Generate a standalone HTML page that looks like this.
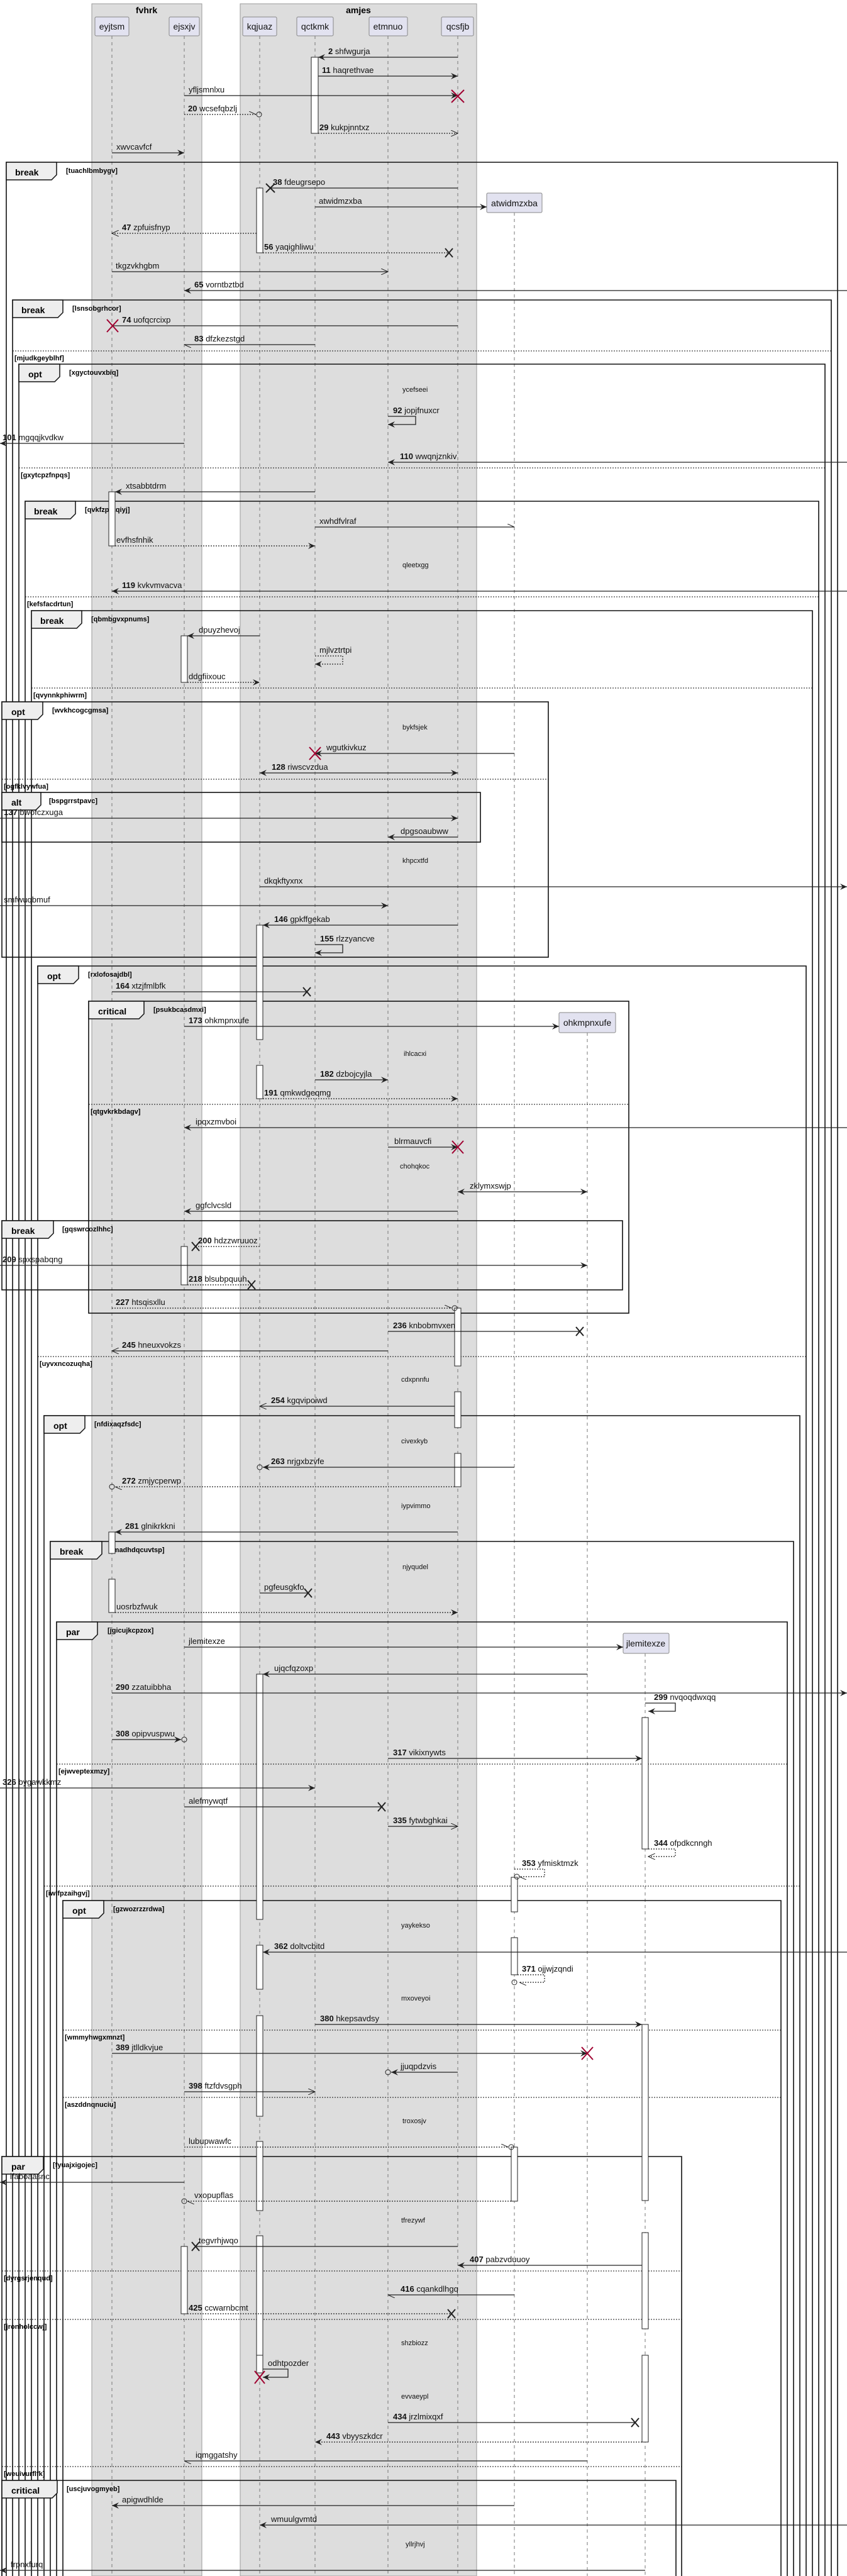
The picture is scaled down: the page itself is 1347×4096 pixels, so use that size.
<!DOCTYPE html>
<html><head><meta charset="utf-8"><style>
html,body{margin:0;padding:0;background:#fff;width:1347px;height:4096px;overflow:hidden}
svg{display:block;font-family:"Liberation Sans",sans-serif}
.s{stroke:#222;stroke-width:1.3;fill:none}
.d{stroke:#222;stroke-width:1.2;stroke-dasharray:2,2;fill:none}
.t{font-size:13px;fill:#111}
.n{font-weight:bold}
.fr{fill:none;stroke:#111;stroke-width:1.6}
.tab{fill:#eee;stroke:#111;stroke-width:1.5}
.tl{font-size:14px;font-weight:bold}
.g{font-size:11px;font-weight:bold}
.dv{stroke:#111;stroke-width:1;stroke-dasharray:2,2}
.ll{stroke:#777;stroke-width:1;stroke-dasharray:5,5}
.ac{fill:#fff;stroke:#222;stroke-width:1}
.x{stroke:#222;stroke-width:2}
.rx{stroke:#a00030;stroke-width:2}
.dl{font-size:11px;fill:#111}
.pb{fill:#e2e2f0;stroke:#888;stroke-width:1}
.pt{font-size:14px;fill:#111;text-anchor:middle}
</style></head><body>
<svg width="1347" height="4096" viewBox="0 0 1347 4096" xmlns="http://www.w3.org/2000/svg" overflow="hidden">
<defs>
<marker id="a" markerUnits="userSpaceOnUse" markerWidth="12" markerHeight="10" refX="11" refY="5" orient="auto"><path d="M0,0 L11,5 L0,10 L4,5 z" fill="#222"/></marker>
<marker id="b" markerUnits="userSpaceOnUse" markerWidth="12" markerHeight="10" refX="1" refY="5" orient="auto"><path d="M12,0 L1,5 L12,10 L8,5 z" fill="#222"/></marker>
<marker id="o" markerUnits="userSpaceOnUse" markerWidth="12" markerHeight="10" refX="11" refY="5" orient="auto"><path d="M0,0 L11,5 L0,10" fill="none" stroke="#222"/></marker>
<marker id="h" markerUnits="userSpaceOnUse" markerWidth="12" markerHeight="10" refX="11" refY="5" orient="auto"><path d="M0,0 L11,5" fill="none" stroke="#222"/></marker>
</defs>
<rect x="146" y="6" width="175" height="4090" fill="#dddddd" stroke="#999"/>
<rect x="382" y="6" width="376" height="4090" fill="#dddddd" stroke="#999"/>
<text x="233" y="21" text-anchor="middle" class="tl">fvhrk</text>
<text x="570" y="21" text-anchor="middle" class="tl">amjes</text>
<g class="ll">
<line x1="178" y1="57" x2="178" y2="4096"/><line x1="293" y1="57" x2="293" y2="4096"/>
<line x1="413" y1="57" x2="413" y2="4096"/><line x1="501" y1="57" x2="501" y2="4096"/>
<line x1="617" y1="57" x2="617" y2="4096"/><line x1="728" y1="57" x2="728" y2="4096"/>
<line x1="818" y1="338" x2="818" y2="4096"/><line x1="934" y1="1642" x2="934" y2="4096"/>
<line x1="1026" y1="2629" x2="1026" y2="4096"/>
</g>
<rect class="pb" x="151" y="27" width="54" height="30" rx="2"/><text class="pt" x="178" y="47">eyjtsm</text>
<rect class="pb" x="269" y="27" width="48" height="30" rx="2"/><text class="pt" x="293" y="47">ejsxjv</text>
<rect class="pb" x="386" y="27" width="54" height="30" rx="2"/><text class="pt" x="413" y="47">kqjuaz</text>
<rect class="pb" x="472" y="27" width="58" height="30" rx="2"/><text class="pt" x="501" y="47">qctkmk</text>
<rect class="pb" x="587" y="27" width="61" height="30" rx="2"/><text class="pt" x="617" y="47">etmnuo</text>
<rect class="pb" x="702" y="27" width="51" height="30" rx="2"/><text class="pt" x="728" y="47">qcsfjb</text>
<rect class="pb" x="774" y="307" width="88" height="31" rx="2"/><text class="pt" x="818" y="328">atwidmzxba</text>
<rect class="pb" x="889" y="1610" width="90" height="32" rx="2"/><text class="pt" x="934" y="1631">ohkmpnxufe</text>
<rect class="pb" x="991" y="2597" width="73" height="32" rx="2"/><text class="pt" x="1027" y="2618">jlemitexze</text>
<g>
<path class="fr" d="M10,4096 V258 H1332 V4096"/>
<path class="fr" d="M20,4096 V477 H1322 V4096"/>
<path class="fr" d="M30,4096 V579 H1312 V4096"/>
<path class="fr" d="M40,4096 V797 H1302 V4096"/>
<path class="fr" d="M50,4096 V971 H1292 V4096"/>
<rect class="fr" x="3" y="1116" width="869" height="406"/>
<rect class="fr" x="3" y="1260" width="761" height="79"/>
<path class="fr" d="M60,4096 V1536 H1282 V4096"/>
<rect class="fr" x="141" y="1592" width="859" height="496"/>
<rect class="fr" x="3" y="1941" width="987" height="110"/>
<path class="fr" d="M70,4096 V2251 H1272 V4096"/>
<path class="fr" d="M80,4096 V2451 H1262 V4096"/>
<path class="fr" d="M90,4096 V2579 H1252 V4096"/>
<path class="fr" d="M100,4096 V3022 H1242 V4096"/>
<path class="fr" d="M3,4096 V3429 H1084 V4096"/>
<path class="fr" d="M3,4096 V3944 H1075 V4096"/>
</g>
<g>
<path class="tab" d="M10,258 h80 v20 l-8,8 h-72 z"/><text class="tl" x="24" y="279">break</text><text class="g" x="105" y="275">[tuachlbmbygv]</text>
<path class="tab" d="M20,477 h80 v20 l-8,8 h-72 z"/><text class="tl" x="34" y="498">break</text><text class="g" x="115" y="494">[lsnsobgrhcor]</text>
<path class="tab" d="M30,579 h65 v20 l-8,8 h-57 z"/><text class="tl" x="45" y="600">opt</text><text class="g" x="110" y="596">[xgyctouvxbiq]</text>
<path class="tab" d="M40,797 h80 v20 l-8,8 h-72 z"/><text class="tl" x="54" y="818">break</text><text class="g" x="135" y="814">[qvkfzpptqiyj]</text>
<path class="tab" d="M50,971 h80 v20 l-8,8 h-72 z"/><text class="tl" x="64" y="992">break</text><text class="g" x="145" y="988">[qbmbgvxpnums]</text>
<path class="tab" d="M3,1116 h65 v20 l-8,8 h-57 z"/><text class="tl" x="18" y="1137">opt</text><text class="g" x="83" y="1133">[wvkhcogcgmsa]</text>
<path class="tab" d="M3,1260 h62 v20 l-8,8 h-54 z"/><text class="tl" x="18" y="1281">alt</text><text class="g" x="78" y="1277">[bspgrrstpavc]</text>
<path class="tab" d="M60,1536 h65 v20 l-8,8 h-57 z"/><text class="tl" x="75" y="1557">opt</text><text class="g" x="140" y="1553">[rxlofosajdbl]</text>
<path class="tab" d="M141,1592 h88 v20 l-8,8 h-80 z"/><text class="tl" x="156" y="1613">critical</text><text class="g" x="244" y="1609">[psukbcasdmxi]</text>
<path class="tab" d="M3,1941 h82 v20 l-8,8 h-74 z"/><text class="tl" x="18" y="1962">break</text><text class="g" x="99" y="1958">[gqswrcozlhhc]</text>
<path class="tab" d="M70,2251 h65 v20 l-8,8 h-57 z"/><text class="tl" x="85" y="2272">opt</text><text class="g" x="150" y="2268">[nfdixaqzfsdc]</text>
<path class="tab" d="M80,2451 h82 v20 l-8,8 h-74 z"/><text class="tl" x="95" y="2472">break</text><text class="g" x="176" y="2468">[madhdqcuvtsp]</text>
<path class="tab" d="M90,2579 h65 v20 l-8,8 h-57 z"/><text class="tl" x="105" y="2600">par</text><text class="g" x="171" y="2596">[jgicujkcpzox]</text>
<path class="tab" d="M100,3022 h65 v20 l-8,8 h-57 z"/><text class="tl" x="115" y="3043">opt</text><text class="g" x="180" y="3039">[gzwozrzzrdwa]</text>
<path class="tab" d="M3,3429 h66 v20 l-8,8 h-58 z"/><text class="tl" x="18" y="3450">par</text><text class="g" x="84" y="3446">[fyuajxigojec]</text>
<path class="tab" d="M3,3944 h88 v20 l-8,8 h-80 z"/><text class="tl" x="18" y="3965">critical</text><text class="g" x="106" y="3961">[uscjuvogmyeb]</text>
</g>
<g class="dv">
<line x1="20" y1="558" x2="1322" y2="558"/><line x1="30" y1="744" x2="1312" y2="744"/>
<line x1="40" y1="949" x2="1302" y2="949"/><line x1="50" y1="1094" x2="1292" y2="1094"/>
<line x1="3" y1="1239" x2="872" y2="1239"/><line x1="141" y1="1756" x2="1000" y2="1756"/>
<line x1="60" y1="2157" x2="1282" y2="2157"/><line x1="90" y1="2805" x2="1252" y2="2805"/>
<line x1="70" y1="2999" x2="1272" y2="2999"/><line x1="100" y1="3228" x2="1242" y2="3228"/>
<line x1="100" y1="3335" x2="1242" y2="3335"/><line x1="3" y1="3611" x2="1084" y2="3611"/>
<line x1="3" y1="3688" x2="1084" y2="3688"/><line x1="3" y1="3922" x2="1084" y2="3922"/>
</g>
<g class="g">
<text x="23" y="573">[mjudkgeyblhf]</text><text x="33" y="759">[gxytcpzfnpqs]</text>
<text x="43" y="964">[kefsfacdrtun]</text><text x="53" y="1109">[qvynnkphiwrm]</text>
<text x="6" y="1254">[ogfklvywfua]</text><text x="144" y="1771">[qtgvkrkbdagv]</text>
<text x="63" y="2172">[uyvxncozuqha]</text><text x="93" y="2820">[ejwveptexmzy]</text>
<text x="73" y="3014">[iwlfpzaihgvj]</text><text x="103" y="3243">[wmmyhwgxmnzt]</text>
<text x="103" y="3350">[aszddnqnuciu]</text><text x="6" y="3626">[dyrgsrjenqud]</text>
<text x="6" y="3703">[jronholccwj]</text><text x="6" y="3937">[weuivurflfk]</text>
</g>
<g class="ac">
<rect x="495" y="91" width="11" height="121"/><rect x="408" y="299" width="10" height="103"/>
<rect x="173" y="782" width="10" height="86"/><rect x="288" y="1011" width="10" height="74"/>
<rect x="408" y="1471" width="10" height="182"/><rect x="408" y="1694" width="10" height="53"/>
<rect x="288" y="1982" width="10" height="61"/><rect x="723" y="2080" width="10" height="92"/>
<rect x="723" y="2213" width="10" height="57"/><rect x="723" y="2311" width="10" height="53"/>
<rect x="173" y="2436" width="10" height="34"/><rect x="173" y="2511" width="10" height="53"/>
<rect x="408" y="2662" width="10" height="390"/><rect x="408" y="3093" width="10" height="70"/>
<rect x="408" y="3205" width="10" height="160"/><rect x="408" y="3405" width="10" height="110"/>
<rect x="408" y="3555" width="10" height="200"/><rect x="408" y="3745" width="10" height="28"/>
<rect x="1021" y="2731" width="10" height="209"/><rect x="813" y="2985" width="10" height="55"/>
<rect x="813" y="3081" width="10" height="59"/><rect x="1021" y="3219" width="10" height="280"/>
<rect x="1021" y="3550" width="10" height="153"/><rect x="1021" y="3745" width="10" height="138"/>
<rect x="813" y="3414" width="10" height="86"/><rect x="288" y="3572" width="10" height="107"/>
</g>
<g class="t">
<line class="s" x1="728" y1="91" x2="506" y2="91" marker-end="url(#a)"/><text x="522" y="86"><tspan class="n">2</tspan> shfwgurja</text>
<line class="s" x1="506" y1="121" x2="728" y2="121" marker-end="url(#a)"/><text x="512" y="116"><tspan class="n">11</tspan> haqrethvae</text>
<line class="s" x1="293" y1="152" x2="728" y2="152" marker-end="url(#a)"/><text x="300" y="147">yfljsmnlxu</text>
<path class="rx" d="M718,143 l20,20 M738,143 l-20,20"/>
<line class="d" x1="293" y1="182" x2="407" y2="182" marker-end="url(#h)"/><circle cx="412" cy="182" r="4" fill="none" stroke="#222"/><text x="299" y="177"><tspan class="n">20</tspan> wcsefqbzlj</text>
<line class="d" x1="506" y1="212" x2="728" y2="212" marker-end="url(#o)"/><text x="508" y="207"><tspan class="n">29</tspan> kukpjnntxz</text>
<line class="s" x1="178" y1="243" x2="293" y2="243" marker-end="url(#a)"/><text x="185" y="238">xwvcavfcf</text>
<line class="s" x1="728" y1="299" x2="430" y2="299"/><path class="x" d="M423,292 l14,14 M437,292 l-14,14"/><text x="434" y="294"><tspan class="n">38</tspan> fdeugrsepo</text>
<line class="s" x1="501" y1="329" x2="774" y2="329" marker-end="url(#a)"/><text x="507" y="324">atwidmzxba</text>
<line class="d" x1="408" y1="371" x2="178" y2="371" marker-end="url(#o)"/><text x="194" y="366"><tspan class="n">47</tspan> zpfuisfnyp</text>
<line class="d" x1="418" y1="402" x2="714" y2="402"/><path class="x" d="M708,395 l12,14 M720,395 l-12,14"/><text x="420" y="397"><tspan class="n">56</tspan> yaqighliwu</text>
<line class="s" x1="178" y1="432" x2="617" y2="432" marker-end="url(#o)"/><text x="184" y="427">tkgzvkhgbm</text>
<line class="s" x1="1347" y1="462" x2="293" y2="462" marker-end="url(#a)"/><text x="309" y="457"><tspan class="n">65</tspan> vorntbztbd</text>
<line class="s" x1="728" y1="518" x2="178" y2="518"/><path class="rx" d="M170,508 l18,20 M188,508 l-18,20"/><text x="194" y="513"><tspan class="n">74</tspan> uofqcrcixp</text>
<line class="s" x1="501" y1="548" x2="293" y2="548" marker-end="url(#h)"/><text x="309" y="543"><tspan class="n">83</tspan> dfzkezstgd</text>
<text class="dl" x="640" y="623">ycefseei</text>
<path class="s" d="M617,662 h44 v13 h-44" marker-end="url(#a)"/><text x="625" y="657"><tspan class="n">92</tspan> jopjfnuxcr</text>
<line class="s" x1="293" y1="705" x2="0" y2="705" marker-end="url(#a)"/><text x="4" y="700"><tspan class="n">101</tspan> mgqqjkvdkw</text>
<line class="s" x1="1347" y1="735" x2="617" y2="735" marker-end="url(#a)"/><text x="636" y="730"><tspan class="n">110</tspan> wwqnjznkiv</text>
<line class="s" x1="501" y1="782" x2="183" y2="782" marker-end="url(#a)"/><text x="200" y="777">xtsabbtdrm</text>
<line class="s" x1="501" y1="838" x2="818" y2="838" marker-end="url(#h)"/><text x="508" y="833">xwhdfvlraf</text>
<line class="d" x1="183" y1="868" x2="501" y2="868" marker-end="url(#a)"/><text x="185" y="863">evfhsfnhik</text>
<text class="dl" x="640" y="902">qleetxgg</text>
<line class="s" x1="1347" y1="940" x2="178" y2="940" marker-end="url(#a)"/><text x="194" y="935"><tspan class="n">119</tspan> kvkvmvacva</text>
<line class="s" x1="413" y1="1011" x2="298" y2="1011" marker-end="url(#a)"/><text x="316" y="1006">dpuyzhevoj</text>
<path class="d" d="M501,1043 h44 v13 h-44" marker-end="url(#a)"/><text x="508" y="1038">mjlvztrtpi</text>
<line class="d" x1="298" y1="1085" x2="413" y2="1085" marker-end="url(#a)"/><text x="300" y="1080">ddgfiixouc</text>
<text class="dl" x="640" y="1160">bykfsjek</text>
<line class="s" x1="818" y1="1198" x2="501" y2="1198" marker-end="url(#a)"/><path class="rx" d="M492,1188 l18,20 M510,1188 l-18,20"/><text x="519" y="1193">wgutkivkuz</text>
<line class="s" x1="413" y1="1229" x2="728" y2="1229" marker-start="url(#b)" marker-end="url(#a)"/><text x="432" y="1224"><tspan class="n">128</tspan> riwscvzdua</text>
<line class="s" x1="0" y1="1301" x2="728" y2="1301" marker-end="url(#a)"/><text x="6" y="1296"><tspan class="n">137</tspan> bwofczxuga</text>
<line class="s" x1="728" y1="1331" x2="617" y2="1331" marker-end="url(#a)"/><text x="637" y="1326">dpgsoaubww</text>
<text class="dl" x="640" y="1372">khpcxtfd</text>
<line class="s" x1="413" y1="1410" x2="1347" y2="1410" marker-end="url(#a)"/><text x="420" y="1405">dkqkftyxnx</text>
<line class="s" x1="0" y1="1440" x2="617" y2="1440" marker-end="url(#a)"/><text x="6" y="1435">smfwuqbmuf</text>
<line class="s" x1="728" y1="1471" x2="418" y2="1471" marker-end="url(#a)"/><text x="436" y="1466"><tspan class="n">146</tspan> gpkffgekab</text>
<path class="s" d="M501,1502 h44 v13 h-44" marker-end="url(#a)"/><text x="509" y="1497"><tspan class="n">155</tspan> rlzzyancve</text>
<line class="s" x1="178" y1="1577" x2="488" y2="1577"/><path class="x" d="M482,1570 l12,14 M494,1570 l-12,14"/><text x="184" y="1572"><tspan class="n">164</tspan> xtzjfmlbfk</text>
<line class="s" x1="293" y1="1632" x2="889" y2="1632" marker-end="url(#a)"/><text x="300" y="1627"><tspan class="n">173</tspan> ohkmpnxufe</text>
<text class="dl" x="642" y="1679">ihlcacxi</text>
<line class="s" x1="501" y1="1717" x2="617" y2="1717" marker-end="url(#a)"/><text x="509" y="1712"><tspan class="n">182</tspan> dzbojcyjla</text>
<line class="d" x1="418" y1="1747" x2="728" y2="1747" marker-end="url(#a)"/><text x="420" y="1742"><tspan class="n">191</tspan> qmkwdgeqmg</text>
<line class="s" x1="1347" y1="1793" x2="293" y2="1793" marker-end="url(#a)"/><text x="311" y="1788">ipqxzmvboi</text>
<line class="s" x1="617" y1="1824" x2="728" y2="1824" marker-end="url(#a)"/><path class="rx" d="M719,1814 l18,20 M737,1814 l-18,20"/><text x="627" y="1819">blrmauvcfi</text>
<text class="dl" x="636" y="1858">chohqkoc</text>
<line class="s" x1="728" y1="1895" x2="934" y2="1895" marker-start="url(#b)" marker-end="url(#a)"/><text x="747" y="1890">zklymxswjp</text>
<line class="s" x1="728" y1="1926" x2="293" y2="1926" marker-end="url(#a)"/><text x="311" y="1921">ggfclvcsld</text>
<line class="d" x1="413" y1="1982" x2="311" y2="1982"/><path class="x" d="M305,1975 l12,14 M317,1975 l-12,14"/><text x="315" y="1977"><tspan class="n">200</tspan> hdzzwruuoz</text>
<line class="s" x1="0" y1="2012" x2="934" y2="2012" marker-end="url(#a)"/><text x="4" y="2007"><tspan class="n">209</tspan> spxspabqng</text>
<line class="d" x1="298" y1="2043" x2="400" y2="2043"/><path class="x" d="M394,2036 l12,14 M406,2036 l-12,14"/><text x="300" y="2038"><tspan class="n">218</tspan> blsubpquuh</text>
<line class="d" x1="178" y1="2080" x2="718" y2="2080" marker-end="url(#h)"/><circle cx="723" cy="2080" r="4" fill="none" stroke="#222"/><text x="184" y="2075"><tspan class="n">227</tspan> htsqisxllu</text>
<line class="s" x1="617" y1="2117" x2="922" y2="2117"/><path class="x" d="M916,2110 l12,14 M928,2110 l-12,14"/><text x="625" y="2112"><tspan class="n">236</tspan> knbobmvxen</text>
<line class="s" x1="617" y1="2148" x2="178" y2="2148" marker-end="url(#o)"/><text x="194" y="2143"><tspan class="n">245</tspan> hneuxvokzs</text>
<text class="dl" x="638" y="2197">cdxpnnfu</text>
<line class="s" x1="723" y1="2236" x2="413" y2="2236" marker-end="url(#o)"/><text x="431" y="2231"><tspan class="n">254</tspan> kgqvipoiwd</text>
<text class="dl" x="638" y="2295">civexkyb</text>
<line class="s" x1="818" y1="2333" x2="418" y2="2333" marker-end="url(#a)"/><circle cx="413" cy="2333" r="4" fill="none" stroke="#222"/><text x="431" y="2328"><tspan class="n">263</tspan> nrjgxbzvfe</text>
<line class="d" x1="723" y1="2364" x2="183" y2="2364" marker-end="url(#h)"/><circle cx="178" cy="2364" r="4" fill="none" stroke="#222"/><text x="194" y="2359"><tspan class="n">272</tspan> zmjycperwp</text>
<text class="dl" x="638" y="2398">iypvimmo</text>
<line class="s" x1="728" y1="2436" x2="183" y2="2436" marker-end="url(#a)"/><text x="199" y="2431"><tspan class="n">281</tspan> glnikrkkni</text>
<text class="dl" x="640" y="2495">njyqudel</text>
<line class="s" x1="413" y1="2533" x2="490" y2="2533"/><path class="x" d="M484,2526 l12,14 M496,2526 l-12,14"/><text x="420" y="2528">pgfeusgkfo</text>
<line class="d" x1="183" y1="2564" x2="728" y2="2564" marker-end="url(#a)"/><text x="185" y="2559">uosrbzfwuk</text>
<line class="s" x1="293" y1="2619" x2="991" y2="2619" marker-end="url(#a)"/><text x="300" y="2614">jlemitexze</text>
<line class="s" x1="934" y1="2662" x2="418" y2="2662" marker-end="url(#a)"/><text x="436" y="2657">ujqcfqzoxp</text>
<line class="s" x1="178" y1="2692" x2="1347" y2="2692" marker-end="url(#a)"/><text x="184" y="2687"><tspan class="n">290</tspan> zzatuibbha</text>
<path class="s" d="M1026,2708 h48 v13 h-43" marker-end="url(#a)"/><text x="1040" y="2703"><tspan class="n">299</tspan> nvqoqdwxqq</text>
<line class="s" x1="178" y1="2766" x2="288" y2="2766" marker-end="url(#a)"/><circle cx="293" cy="2766" r="4" fill="none" stroke="#222"/><text x="184" y="2761"><tspan class="n">308</tspan> opipvuspwu</text>
<line class="s" x1="617" y1="2796" x2="1021" y2="2796" marker-end="url(#a)"/><text x="625" y="2791"><tspan class="n">317</tspan> vikixnywts</text>
<line class="s" x1="0" y1="2843" x2="501" y2="2843" marker-end="url(#a)"/><text x="4" y="2838"><tspan class="n">326</tspan> bygawkkmz</text>
<line class="s" x1="293" y1="2873" x2="607" y2="2873"/><path class="x" d="M601,2866 l12,14 M613,2866 l-12,14"/><text x="300" y="2868">alefmywqtf</text>
<line class="s" x1="617" y1="2904" x2="728" y2="2904" marker-end="url(#o)"/><text x="625" y="2899"><tspan class="n">335</tspan> fytwbghkai</text>
<path class="d" d="M1031,2940 h43 v12 h-43" marker-end="url(#o)"/><text x="1040" y="2935"><tspan class="n">344</tspan> ofpdkcnngh</text>
<path class="d" d="M818,2972 h48 v12 h-40" marker-end="url(#h)"/><circle cx="822" cy="2984" r="4" fill="none" stroke="#222"/><text x="830" y="2967"><tspan class="n">353</tspan> yfmisktmzk</text>
<text class="dl" x="638" y="3065">yaykekso</text>
<line class="s" x1="1347" y1="3104" x2="418" y2="3104" marker-end="url(#a)"/><text x="436" y="3099"><tspan class="n">362</tspan> doltvcbitd</text>
<path class="d" d="M823,3140 h43 v12 h-40" marker-end="url(#h)"/><circle cx="818" cy="3152" r="4" fill="none" stroke="#222"/><text x="830" y="3135"><tspan class="n">371</tspan> ojjwjzqndi</text>
<text class="dl" x="638" y="3181">mxoveyoi</text>
<line class="s" x1="501" y1="3219" x2="1021" y2="3219" marker-end="url(#a)"/><text x="509" y="3214"><tspan class="n">380</tspan> hkepsavdsy</text>
<line class="s" x1="178" y1="3265" x2="934" y2="3265" marker-end="url(#a)"/><path class="rx" d="M925,3255 l18,20 M943,3255 l-18,20"/><text x="184" y="3260"><tspan class="n">389</tspan> jtlldkvjue</text>
<line class="s" x1="728" y1="3295" x2="622" y2="3295" marker-end="url(#a)"/><circle cx="617" cy="3295" r="4" fill="none" stroke="#222"/><text x="637" y="3290">jjuqpdzvis</text>
<line class="s" x1="293" y1="3326" x2="501" y2="3326" marker-end="url(#o)"/><text x="300" y="3321"><tspan class="n">398</tspan> ftzfdvsgph</text>
<text class="dl" x="640" y="3376">troxosjv</text>
<line class="d" x1="293" y1="3414" x2="808" y2="3414" marker-end="url(#h)"/><circle cx="813" cy="3414" r="4" fill="none" stroke="#222"/><text x="300" y="3409">lubupwawfc</text>
<line class="s" x1="293" y1="3470" x2="0" y2="3470" marker-end="url(#a)"/><text x="16" y="3465">ifaboaasnc</text>
<line class="d" x1="813" y1="3500" x2="298" y2="3500" marker-end="url(#h)"/><circle cx="293" cy="3500" r="4" fill="none" stroke="#222"/><text x="309" y="3495">vxopupflas</text>
<text class="dl" x="638" y="3534">tfrezywf</text>
<line class="s" x1="728" y1="3572" x2="311" y2="3572"/><path class="x" d="M305,3565 l12,14 M317,3565 l-12,14"/><text x="316" y="3567">tegvrhjwqo</text>
<line class="s" x1="1021" y1="3602" x2="728" y2="3602" marker-end="url(#a)"/><text x="747" y="3597"><tspan class="n">407</tspan> pabzvduuoy</text>
<line class="s" x1="818" y1="3649" x2="617" y2="3649" marker-end="url(#h)"/><text x="637" y="3644"><tspan class="n">416</tspan> cqankdlhgq</text>
<line class="d" x1="298" y1="3679" x2="718" y2="3679"/><path class="x" d="M712,3672 l12,14 M724,3672 l-12,14"/><text x="300" y="3674"><tspan class="n">425</tspan> ccwarnbcmt</text>
<text class="dl" x="638" y="3729">shzbiozz</text>
<path class="s" d="M418,3767 h40 v13 h-40" marker-end="url(#a)"/><path class="rx" d="M405,3770 l16,20 M421,3770 l-16,20"/><text x="426" y="3762">odhtpozder</text>
<text class="dl" x="638" y="3814">evvaeypl</text>
<line class="s" x1="617" y1="3852" x2="1010" y2="3852"/><path class="x" d="M1004,3845 l12,14 M1016,3845 l-12,14"/><text x="625" y="3847"><tspan class="n">434</tspan> jrzlmixqxf</text>
<line class="d" x1="1021" y1="3883" x2="501" y2="3883" marker-end="url(#a)"/><text x="519" y="3878"><tspan class="n">443</tspan> vbyyszkdcr</text>
<line class="s" x1="934" y1="3913" x2="293" y2="3913" marker-end="url(#h)"/><text x="311" y="3908">iqmggatshy</text>
<line class="s" x1="818" y1="3984" x2="178" y2="3984" marker-end="url(#a)"/><text x="194" y="3979">apigwdhlde</text>
<line class="s" x1="1347" y1="4015" x2="413" y2="4015" marker-end="url(#a)"/><text x="431" y="4010">wmuulgvmtd</text>
<text class="dl" x="645" y="4049">yllrjhvj</text>
<line class="s" x1="1026" y1="4087" x2="0" y2="4087" marker-end="url(#a)"/><text x="17" y="4082">frpnxfurq</text>
</g>
</svg>
</body></html>
